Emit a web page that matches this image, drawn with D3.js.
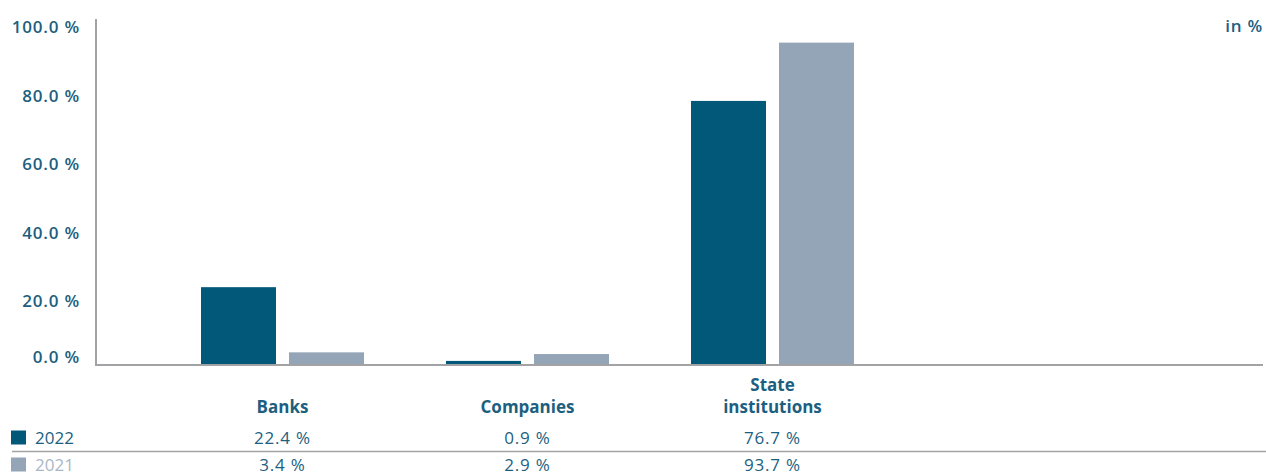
<!DOCTYPE html>
<html>
<head>
<meta charset="utf-8">
<script src="https://cdn.jsdelivr.net/npm/d3@7/dist/d3.min.js"></script>
<style>
  html, body { margin: 0; padding: 0; background: #fff; }
  svg { display: block; font-family: "Open Sans", "Noto Sans", sans-serif; }
</style>
</head>
<body>
<svg id="chart" width="1266" height="472"></svg>
<script>
// Share by counterparty group, in %
const categories = ["Banks", "Companies", "State institutions"];
const categoryLines = [["Banks"], ["Companies"], ["State", "institutions"]];
const years = ["2022", "2021"];
const values2022 = [22.4, 0.9, 76.7];
const values2021 = [3.4, 2.9, 93.7];
const yTicks = [0, 20, 40, 60, 80, 100];

const seriesColors = { "2022": "#025878", "2021": "#94a5b8" };
const legendTextColors = { "2022": "#1c5f80", "2021": "#aab7c6" };
const textColor = "#1c5f80";
const axisColor = "#a3a3a6";

const svg = d3.select("#chart");
const W = 1266;

const axisX = 96, baseY = 364, topY = 21, rightX = 1263;

const y = d3.scaleLinear().domain([0, 100]).range([baseY, topY]);
const x = d3.scaleBand().domain(categories).range([160, 160 + 245 * 3]).paddingInner(0);
const xInner = d3.scaleBand().domain(years).range([41, 245 - 41]).paddingInner(13 / 88);

const rows = categories.map((c, i) => ({ cat: c, "2022": values2022[i], "2021": values2021[i] }));

// bars
const g = svg.append("g");
rows.forEach(r => {
  years.forEach(yr => {
    g.append("rect")
      .attr("x", x(r.cat) + xInner(yr))
      .attr("width", xInner.bandwidth())
      .attr("y", y(r[yr]))
      .attr("height", baseY - y(r[yr]))
      .attr("fill", seriesColors[yr]);
  });
});

// y axis line and baseline
svg.append("line").attr("x1", axisX).attr("x2", axisX).attr("y1", 19).attr("y2", baseY + 2)
  .attr("stroke", axisColor).attr("stroke-width", 2);
svg.append("line").attr("x1", axisX - 1).attr("x2", rightX).attr("y1", baseY + 1).attr("y2", baseY + 1)
  .attr("stroke", axisColor).attr("stroke-width", 2);

// y tick labels
const fmt = d => d3.format(".1f")(d) + " %";
svg.append("g").selectAll("text").data(yTicks).join("text")
  .attr("x", 80)
  .attr("y", d => d === 0 ? y(d) - 1 : y(d) + 12)
  .attr("text-anchor", "end")
  .attr("font-size", 17)
  .attr("font-weight", 600)
  .attr("letter-spacing", 0.8)
  .attr("fill", textColor)
  .text(fmt);

// unit label
svg.append("text").attr("x", rightX).attr("y", 32).attr("text-anchor", "end")
  .attr("font-size", 17).attr("font-weight", 600).attr("letter-spacing", 0.8)
  .attr("fill", textColor).text("in %");

// category labels
categories.forEach((c, i) => {
  const lines = categoryLines[i];
  const cx = x(c) + x.bandwidth() / 2;
  lines.forEach((ln, j) => {
    svg.append("text")
      .attr("x", cx)
      .attr("y", 413 - (lines.length - 1 - j) * 22)
      .attr("text-anchor", "middle")
      .attr("font-size", 17)
      .attr("font-weight", 700)
      .attr("fill", textColor)
      .text(ln);
  });
});

// data table with legend
const rowBase = { "2022": 444, "2021": 471 };
const seriesValues = { "2022": values2022, "2021": values2021 };
years.forEach(yr => {
  const by = rowBase[yr];
  svg.append("rect").attr("x", 11).attr("y", by - 13.5).attr("width", 15).attr("height", 14)
    .attr("fill", seriesColors[yr]);
  svg.append("text").attr("x", 35).attr("y", by).attr("font-size", 17)
    .attr("fill", legendTextColors[yr]).text(yr);
  categories.forEach((c, i) => {
    svg.append("text")
      .attr("x", x(c) + x.bandwidth() / 2)
      .attr("y", by)
      .attr("text-anchor", "middle")
      .attr("font-size", 17)
      .attr("letter-spacing", 0.8)
      .attr("fill", textColor)
      .text(fmt(seriesValues[yr][i]));
  });
});
svg.append("line").attr("x1", 12).attr("x2", W).attr("y1", 451.5).attr("y2", 451.5)
  .attr("stroke", axisColor).attr("stroke-width", 1.5);
</script>
</body>
</html>
